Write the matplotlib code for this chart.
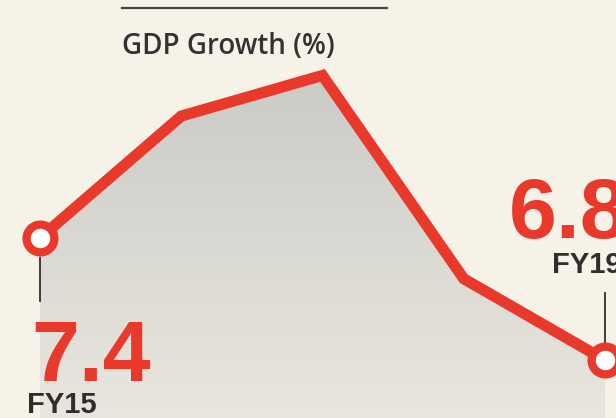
import numpy as np
import matplotlib
matplotlib.use('Agg')
import matplotlib.pyplot as plt
from matplotlib.patches import Polygon

########################################################################
# data
years = ['FY15', 'FY16', 'FY17', 'FY18', 'FY19']
growth = [7.4, 8.0, 8.2, 7.2, 6.8]

bg = '#f6f2e8'
red = '#e8392b'
dark = '#2e2e2e'

########################################################################
fig = plt.figure(figsize=(6.16, 4.18), dpi=100, facecolor=bg)
ax = fig.add_axes([0, 0, 1, 1])
ax.set_facecolor(bg)
ax.set_xlim(-0.283, 4.078)
ax.set_ylim(6.515, 8.571)
ax.axis('off')

x = np.arange(len(years))
y0 = ax.get_ylim()[0]

# grey gradient under the line
verts = [(x[0], y0)] + list(zip(x, growth)) + [(x[-1], y0)]
poly = Polygon(verts, closed=True, facecolor='none', edgecolor='none')
ax.add_patch(poly)
grad = np.linspace(0, 1, 256).reshape(-1, 1)
img = ax.imshow(grad, extent=[x[0], x[-1], y0, max(growth)], origin='lower',
                cmap=matplotlib.colors.LinearSegmentedColormap.from_list(
                    'g', ['#e9e6de', '#cbcbc7']),
                aspect='auto', zorder=1)
img.set_clip_path(poly)

# the line with open markers at both ends
ax.plot(x, growth, color=red, lw=8, solid_joinstyle='miter', zorder=3)
ax.plot([x[0], x[-1]], [growth[0], growth[-1]], 'o', ms=20, mfc='white',
        mec=red, mew=6, zorder=4)

# ticks from end markers to the labels
ax.plot([x[0], x[0]], [growth[0] - 0.1, growth[0] - 0.31], color=dark, lw=1.3)
ax.plot([x[-1], x[-1]], [growth[-1] + 0.08, growth[-1] + 0.33], color=dark, lw=1.3)

# labels
big = dict(family='Liberation Sans', weight='bold', color=red, fontsize=62)
small = dict(family='Liberation Sans', weight='bold', color=dark, fontsize=21)
ax.text(x[0] - 0.06, growth[0] - 0.705, '%.1f' % growth[0], ha='left',
        va='baseline', **big)
ax.text(x[0] - 0.09, growth[0] - 0.86, years[0], ha='left', va='baseline', **small)
ax.text(x[-1] - 0.68, growth[-1] + 0.6, '%.1f' % growth[-1], ha='left',
        va='baseline', **big)
ax.text(x[-1] - 0.375, growth[-1] + 0.43, years[-1], ha='left', va='baseline', **small)

# header
fig.text(122 / 616, 1 - 54 / 418, 'GDP Growth (%)', family='Open Sans',
         weight='semibold', color='#333333', fontsize=20, ha='left', va='baseline')
fig.add_artist(plt.Line2D([122 / 616, 387 / 616], [1 - 8 / 418, 1 - 8 / 418],
                          color='#444444', lw=1.6))

fig.savefig('out.png', dpi=100, facecolor=bg)
